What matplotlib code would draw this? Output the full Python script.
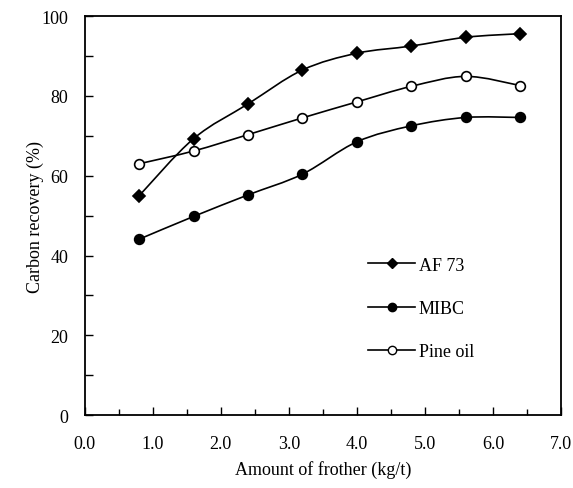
import matplotlib
matplotlib.use('Agg')
import matplotlib.pyplot as plt
from matplotlib.path import Path
from matplotlib.patches import PathPatch
import numpy as np

# Data
frother = [0.8, 1.6, 2.4, 3.2, 4.0, 4.8, 5.6, 6.4]
af73 = [55.0, 69.3, 78.0, 86.5, 90.7, 92.5, 94.7, 95.6]
mibc = [44.1, 49.8, 55.2, 60.4, 68.5, 72.5, 74.6, 74.6]
pine_oil = [63.0, 66.2, 70.3, 74.5, 78.5, 82.4, 84.9, 82.6]

plt.rcParams['font.family'] = 'Liberation Serif'
plt.rcParams['font.size'] = 13


def smooth_path(x, y):
    # Catmull-Rom style smoothing drawn as cubic Bezier segments
    x = np.asarray(x, float)
    y = np.asarray(y, float)
    n = len(x)
    verts = [(x[0], y[0])]
    codes = [Path.MOVETO]
    t = 1.0 / 6.0
    for i in range(n - 1):
        p0 = i - 1 if i > 0 else i
        p3 = i + 2 if i + 2 < n else i + 1
        c1 = (x[i] + (x[i + 1] - x[p0]) * t, y[i] + (y[i + 1] - y[p0]) * t)
        c2 = (x[i + 1] - (x[p3] - x[i]) * t, y[i + 1] - (y[p3] - y[i]) * t)
        verts += [c1, c2, (x[i + 1], y[i + 1])]
        codes += [Path.CURVE4] * 3
    return Path(verts, codes)


fig = plt.figure(figsize=(5.73, 4.89), dpi=100)
ax = fig.add_axes([0.148, 0.149, 0.831, 0.816])

series = [
    ('AF 73', af73, 'D', 'black', 6),
    ('MIBC', mibc, 'o', 'black', 7),
    ('Pine oil', pine_oil, 'o', 'white', 7),
]
for label, vals, mk, fc, ms in series:
    ax.add_patch(PathPatch(smooth_path(frother, vals), fill=False,
                           edgecolor='black', lw=1.2))
    ax.plot(frother, vals, linestyle='none', marker=mk, ms=ms,
            mfc=fc, mec='black', mew=1.2, zorder=3)
    ax.plot([], [], color='black', lw=1.2, marker=mk, ms=ms - 1,
            mfc=fc, mec='black', label=label)

ax.set_xlim(0, 7)
ax.set_ylim(0, 100)
ax.set_xticks(np.arange(0, 7.01, 1.0))
ax.set_xticklabels(['%.1f' % v for v in np.arange(0, 7.01, 1.0)])
ax.set_xticks(np.arange(0.5, 7, 1.0), minor=True)
ax.set_yticks(range(0, 101, 20))
ax.set_yticks(range(10, 100, 20), minor=True)
ax.tick_params(axis='both', which='both', direction='in', top=False,
               right=False, length=6, width=1)
ax.tick_params(axis='x', which='major', pad=14)
ax.tick_params(axis='y', which='major', pad=12)
ax.tick_params(axis='x', which='minor', length=4)

ax.set_xlabel('Amount of frother (kg/t)', labelpad=6)
ax.set_ylabel('Carbon recovery (%)', labelpad=-2)

ax.legend(loc='upper left', bbox_to_anchor=(0.58, 0.415), frameon=False,
          labelspacing=1.45, handlelength=2.6, handletextpad=0.2,
          borderaxespad=0)

for sp in ax.spines.values():
    sp.set_linewidth(1.3)

plt.savefig('out.png', dpi=100)
